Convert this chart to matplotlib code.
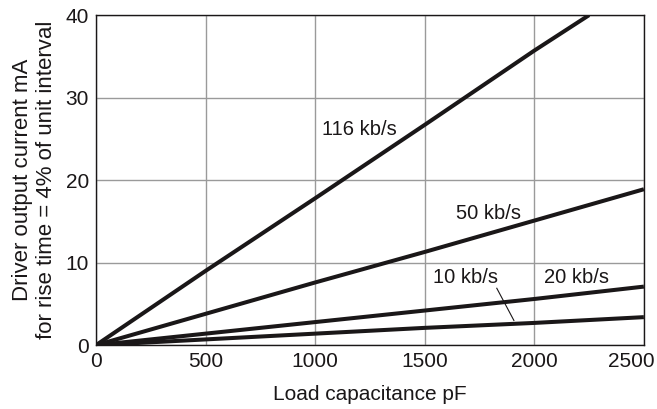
import numpy as np
import matplotlib.pyplot as plt
from matplotlib.transforms import ScaledTranslation

plt.rcParams['font.family'] = ['Liberation Sans', 'DejaVu Sans']

# load capacitance (pF) sample points
cap = [0, 500, 1000, 1500, 2000, 2500]
cap_116 = [0, 500, 1000, 1500, 2000, 2250]

i_116 = [0, 9.0, 17.8, 26.7, 35.7, 40.0]
i_50 = [0, 3.8, 7.6, 11.3, 15.1, 18.9]
i_20 = [0, 1.4, 2.8, 4.2, 5.6, 7.1]
i_10 = [0, 0.7, 1.4, 2.1, 2.7, 3.4]


def main():
    fig = plt.figure(figsize=(6.57, 4.09), dpi=100)
    ax = fig.add_axes([0.146, 0.156, 0.834, 0.807])
    ink = '#1a1718'

    lw = 2.9
    ax.plot(cap_116, i_116, color=ink, lw=lw, solid_capstyle='butt')
    ax.plot(cap, i_50, color=ink, lw=lw, solid_capstyle='butt')
    ax.plot(cap, i_20, color=ink, lw=lw, solid_capstyle='butt')
    ax.plot(cap, i_10, color=ink, lw=lw, solid_capstyle='butt')

    ax.set_xlim(0, 2500)
    ax.set_ylim(0, 40)
    ax.set_xticks([0, 500, 1000, 1500, 2000, 2500])
    ax.set_yticks([0, 10, 20, 30, 40])
    ax.grid(True, color='#9a9a9a', lw=1.0)
    ax.set_axisbelow(True)
    ax.tick_params(length=0, labelsize=15, colors=ink)
    ax.tick_params(axis='x', pad=5)
    ax.tick_params(axis='y', pad=5)
    for s in ax.spines.values():
        s.set_linewidth(1.0)
        s.set_color(ink)

    # last x tick label is nudged left so it stays inside the figure
    lbl = ax.get_xticklabels()[-1]
    lbl.set_transform(lbl.get_transform() + ScaledTranslation(-0.13, 0, fig.dpi_scale_trans))

    ax.set_xlabel('Load capacitance pF', fontsize=15, labelpad=10, color=ink)
    ax.set_ylabel('Driver output current mA\nfor rise time = 4% of unit interval',
                  fontsize=16, labelpad=6, color=ink, linespacing=1.2)

    ax.text(1204, 26.1, '116 kb/s', fontsize=14.5, ha='center', va='center', color=ink)
    ax.text(1793, 16.0, '50 kb/s', fontsize=14.5, ha='center', va='center', color=ink)
    ax.text(1688, 8.2, '10 kb/s', fontsize=14.5, ha='center', va='center', color=ink)
    ax.text(2194, 8.2, '20 kb/s', fontsize=14.5, ha='center', va='center', color=ink)
    ax.plot([1829, 1907], [6.9, 3.0], color=ink, lw=0.8)

    fig.savefig('out.png', dpi=100)


if __name__ == "__main__":
    main()
